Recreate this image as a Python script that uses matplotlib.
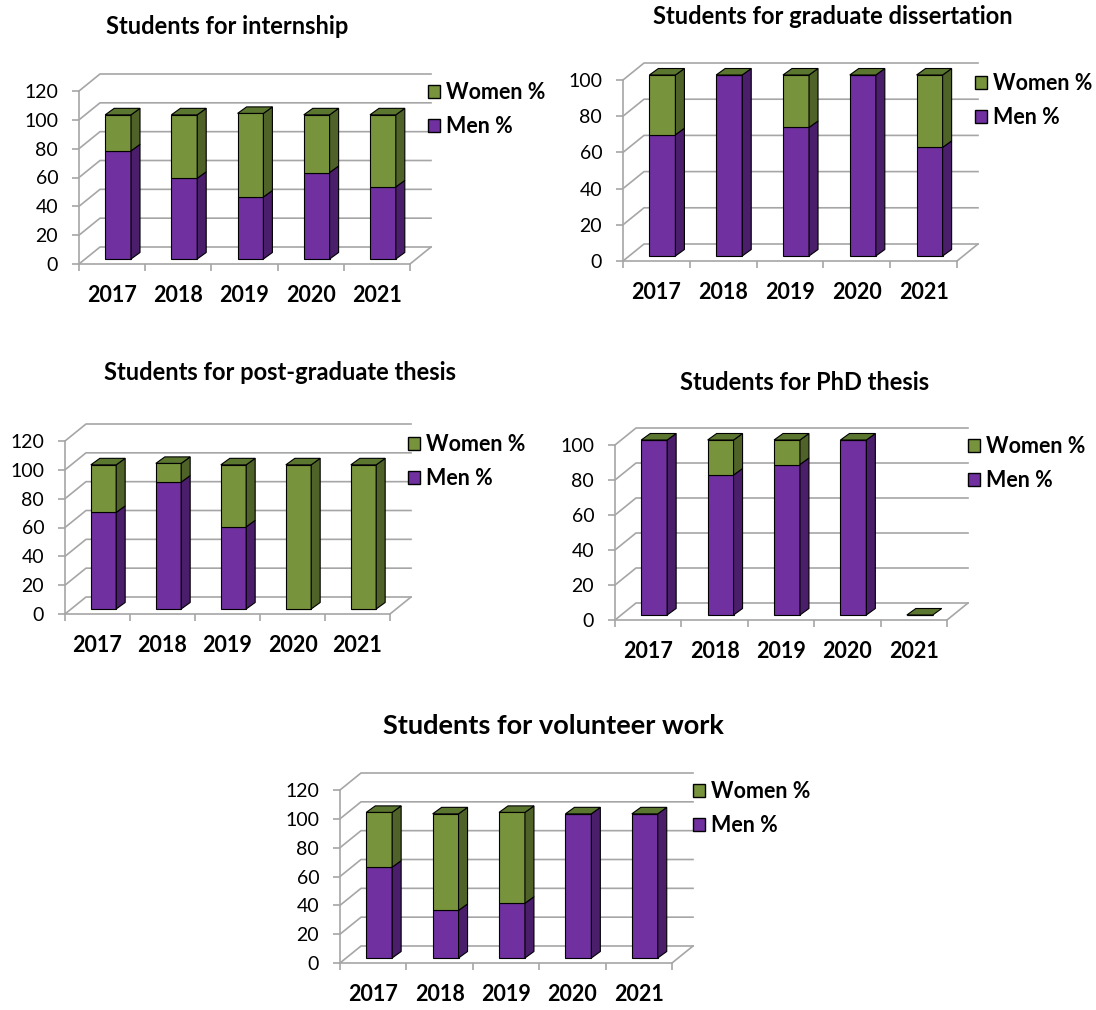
import numpy as np
import matplotlib.pyplot as plt
from matplotlib.patches import Polygon, Patch

plt.rcParams['font.family'] = ['Lato', 'DejaVu Sans']

years = ['2017', '2018', '2019', '2020', '2021']

internship_men = [75, 56, 43, 60, 50]
internship_women = [25, 44, 58, 40, 50]

dissertation_men = [67, 100, 71, 100, 60]
dissertation_women = [33, 0, 29, 0, 40]

postgrad_men = [67, 88, 57, 0, 0]
postgrad_women = [33, 13, 43, 100, 100]

phd_men = [100, 80, 86, 100, 0]
phd_women = [0, 20, 14, 0, 0]

volunteer_men = [63, 33, 38, 100, 100]
volunteer_women = [38, 67, 63, 0, 0]

MEN_FRONT = '#7030A0'
MEN_SIDE = '#4A1E6A'
WOMEN_FRONT = '#77933C'
WOMEN_SIDE = '#4F6228'
WOMEN_TOP = '#5B772F'
GRID = '#A6A6A6'

W, H = 1096, 1010
fig = plt.figure(figsize=(W / 100, H / 100), dpi=100)


def panel(title, men, women, ymax, axis_x, y0, ytop, cat_px,
          title_xy, title_size, legend_xy):
    # axes box = front plane of the 3-D chart, in pixel layout
    ax = fig.add_axes([axis_x / W, 1 - y0 / H, 5 * cat_px / W, (y0 - ytop) / H])
    ax.set_xlim(-0.5, 4.5)
    ax.set_ylim(0, ymax)
    px_y = (y0 - ytop) / ymax

    def off(dx, dy):
        return dx / cat_px, dy / px_y

    wx, wy = off(21, 17)   # depth of the walls
    fx, fy = off(6, 5)     # bars sit a little behind the front edge
    sx, sy = off(9, 6.5)   # depth of each bar
    bw = 0.39

    ticks = np.arange(0, ymax + 1, 20)
    for v in ticks:
        ax.plot([-0.5, -0.5 + wx, 4.5 + wx], [v, v + wy, v + wy],
                color=GRID, lw=1.2, clip_on=False, zorder=1)
    ax.plot([4.5 + wx, 4.5], [wy, 0], color=GRID, lw=1.2, clip_on=False, zorder=1)

    x = np.arange(len(years))
    men = np.array(men, float)
    women = np.array(women, float)
    ax.bar(x + fx, men, bw, bottom=fy, color=MEN_FRONT, edgecolor='black',
           lw=0.8, zorder=3, clip_on=False)
    ax.bar(x + fx, women, bw, bottom=fy + men, color=WOMEN_FRONT, edgecolor='black',
           lw=0.8, zorder=3, clip_on=False)

    for i in x:
        xr = i + fx + bw / 2
        xl = i + fx - bw / 2
        base = fy
        for h, side in ((men[i], MEN_SIDE), (women[i], WOMEN_SIDE)):
            if h > 0:
                ax.add_patch(Polygon([(xr, base), (xr + sx, base + sy),
                                      (xr + sx, base + h + sy), (xr, base + h)],
                                     fc=side, ec='black', lw=0.8, zorder=3, clip_on=False))
            base += h
        ax.add_patch(Polygon([(xl, base), (xr, base), (xr + sx, base + sy),
                              (xl + sx, base + sy)],
                             fc=WOMEN_TOP, ec='black', lw=0.8, zorder=4, clip_on=False))

    for s in ('top', 'right'):
        ax.spines[s].set_visible(False)
    for s in ('left', 'bottom'):
        ax.spines[s].set_color(GRID)
        ax.spines[s].set_linewidth(1.2)
    ax.set_yticks(ticks)
    ax.tick_params(axis='y', direction='out', length=5, width=1.2, color=GRID,
                   pad=10, labelsize=14)
    ax.set_xticks(np.arange(-0.5, 5, 1))
    ax.set_xticklabels([])
    ax.set_xticks(x, years, minor=True)
    ax.tick_params(axis='x', which='major', direction='out', length=5, width=1.2, color=GRID)
    ax.tick_params(axis='x', which='minor', length=0, pad=15, labelsize=15.5)
    for lbl in ax.get_xticklabels(minor=True):
        lbl.set_fontweight('bold')
    ax.patch.set_visible(False)

    fig.text(title_xy[0] / W, 1 - title_xy[1] / H, title, ha='center', va='center',
             fontsize=title_size, fontweight='bold')

    handles = [Patch(fc=WOMEN_FRONT, ec='black', label='Women %'),
               Patch(fc=MEN_FRONT, ec='black', label='Men %')]
    ax.legend(handles=handles, loc='upper left',
              bbox_to_anchor=(legend_xy[0] / W, 1 - legend_xy[1] / H),
              bbox_transform=fig.transFigure, frameon=False,
              prop={'weight': 'bold', 'size': 15.5}, handlelength=0.55,
              handleheight=0.55, handletextpad=0.3, labelspacing=0.62,
              borderaxespad=0, borderpad=0)


panel('Students for internship', internship_men, internship_women, 120,
      79, 264, 91, 66.2, (227, 26), 17, (428, 82))
panel('Students for graduate dissertation', dissertation_men, dissertation_women, 100,
      623, 261, 80, 66.8, (833, 17), 17, (975, 73))
panel('Students for post-graduate thesis', postgrad_men, postgrad_women, 120,
      65, 614, 441, 65.0, (280, 373), 17, (408, 434))
panel('Students for PhD thesis', phd_men, phd_women, 100,
      615, 620, 445, 66.4, (805, 383), 17, (968, 436))
panel('Students for volunteer work', volunteer_men, volunteer_women, 120,
      340, 963, 790, 66.4, (553, 726), 19.5, (693, 781))

fig.savefig('out.png', dpi=100)
